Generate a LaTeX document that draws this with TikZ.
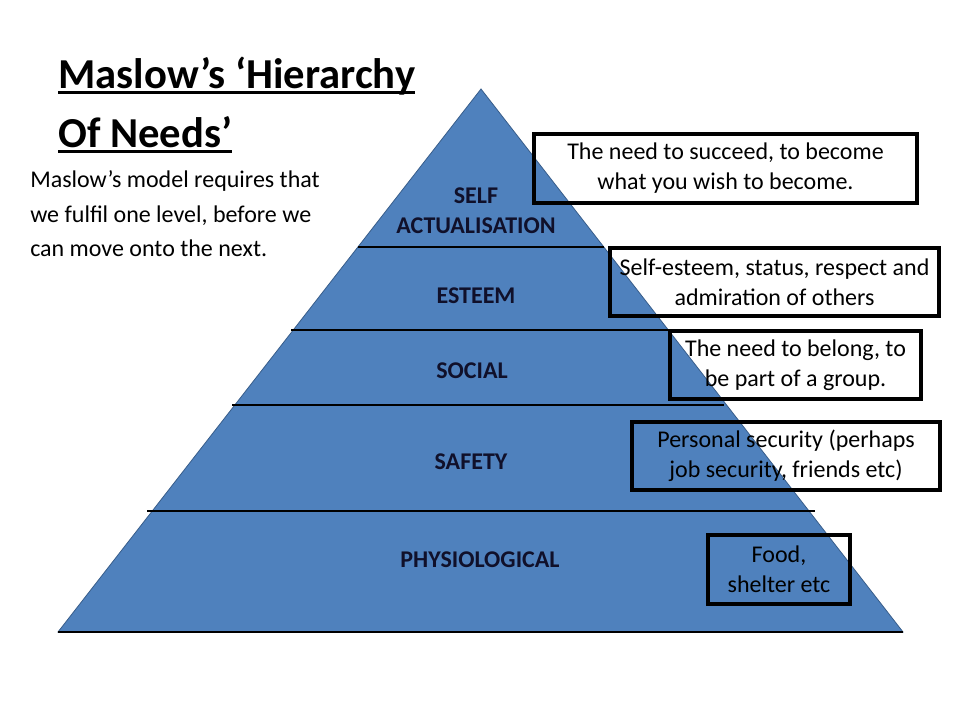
\documentclass[tikz,border=0pt]{standalone}
\usepackage{fontspec}
\setmainfont{Carlito}
\usepackage{tikz}
\usetikzlibrary{calc}
\definecolor{pyrBlue}{HTML}{4F81BD}
\definecolor{pyrEdge}{HTML}{385D8A}
\definecolor{pyrInk}{HTML}{10102A}
\newcommand{\thickul}[1]{\setbox0\hbox{#1}\rlap{\vrule width \wd0 height -1.2pt depth 3.4pt}\box0}
\tikzset{
  lvl/.style={font=\fontsize{18}{22.5}\selectfont\bfseries,text=pyrInk,align=center,inner sep=0pt},
  nbox/.style={draw=black,line width=3pt,align=center,inner sep=0pt,
    font=\fontsize{18}{22.5}\selectfont},
  ttl/.style={font=\fontsize{32}{40}\selectfont\bfseries,anchor=base west,inner sep=0pt},
  divline/.style={draw=black,line width=0.8pt},
}
\begin{document}
\begin{tikzpicture}[x=0.75pt,y=-0.75pt]
\useasboundingbox (0,0) rectangle (960,720);
% pyramid
\coordinate (apex) at (481,89);
\coordinate (bl) at (58,632);
\coordinate (br) at (903,632);
\fill[pyrBlue,draw=pyrEdge,line width=0.6pt] (apex) -- (br) -- (bl) -- cycle;
\draw[divline] (358,247) -- (604,247);
\draw[divline] (291,330) -- (668,330);
\draw[divline] (232,405) -- (724,405);
\draw[divline] (147,511) -- (815,511);
\draw[black,line width=0.8pt] (bl) -- (br);
% levels
\node[lvl,anchor=base] (self) at (476,234) {SELF\\ACTUALISATION};
\node[lvl,anchor=base] (esteem) at (476,303) {ESTEEM};
\node[lvl,anchor=base] (social) at (472,378) {SOCIAL};
\node[lvl,anchor=base] (safety) at (471,469) {SAFETY};
\node[lvl,anchor=base] (physio) at (480,567) {PHYSIOLOGICAL};
% title and note
\node[ttl] (title1) at (58,89) {\thickul{Maslow’s ‘Hierarchy}};
\node[ttl] (title2) at (58,148) {\thickul{Of Needs’}};
\node[anchor=base west,inner sep=0pt,align=left,
  font=\fontsize{18}{25.9}\selectfont] (note) at (30,257)
  {Maslow’s model requires that\\we fulfil one level, before we\\can move onto the next.};
% description boxes
\node[nbox,minimum width=383*0.75pt,minimum height=69*0.75pt] (dself) at (725.5,168.5)
  {The need to succeed, to become\\what you wish to become.};
\node[nbox,minimum width=329*0.75pt,minimum height=68*0.75pt] (desteem) at (774.5,282)
  {Self-esteem, status, respect and\\admiration of others};
\node[nbox,minimum width=251*0.75pt,minimum height=68*0.75pt] (dsocial) at (795.5,365)
  {The need to belong, to\\be part of a group.};
\node[nbox,minimum width=308*0.75pt,minimum height=68*0.75pt] (dsafety) at (786,456)
  {Personal security (perhaps\\job security, friends etc)};
\node[nbox,minimum width=142*0.75pt,minimum height=69*0.75pt] (dphysio) at (779,569.5)
  {Food,\\shelter etc};
\end{tikzpicture}
\end{document}
